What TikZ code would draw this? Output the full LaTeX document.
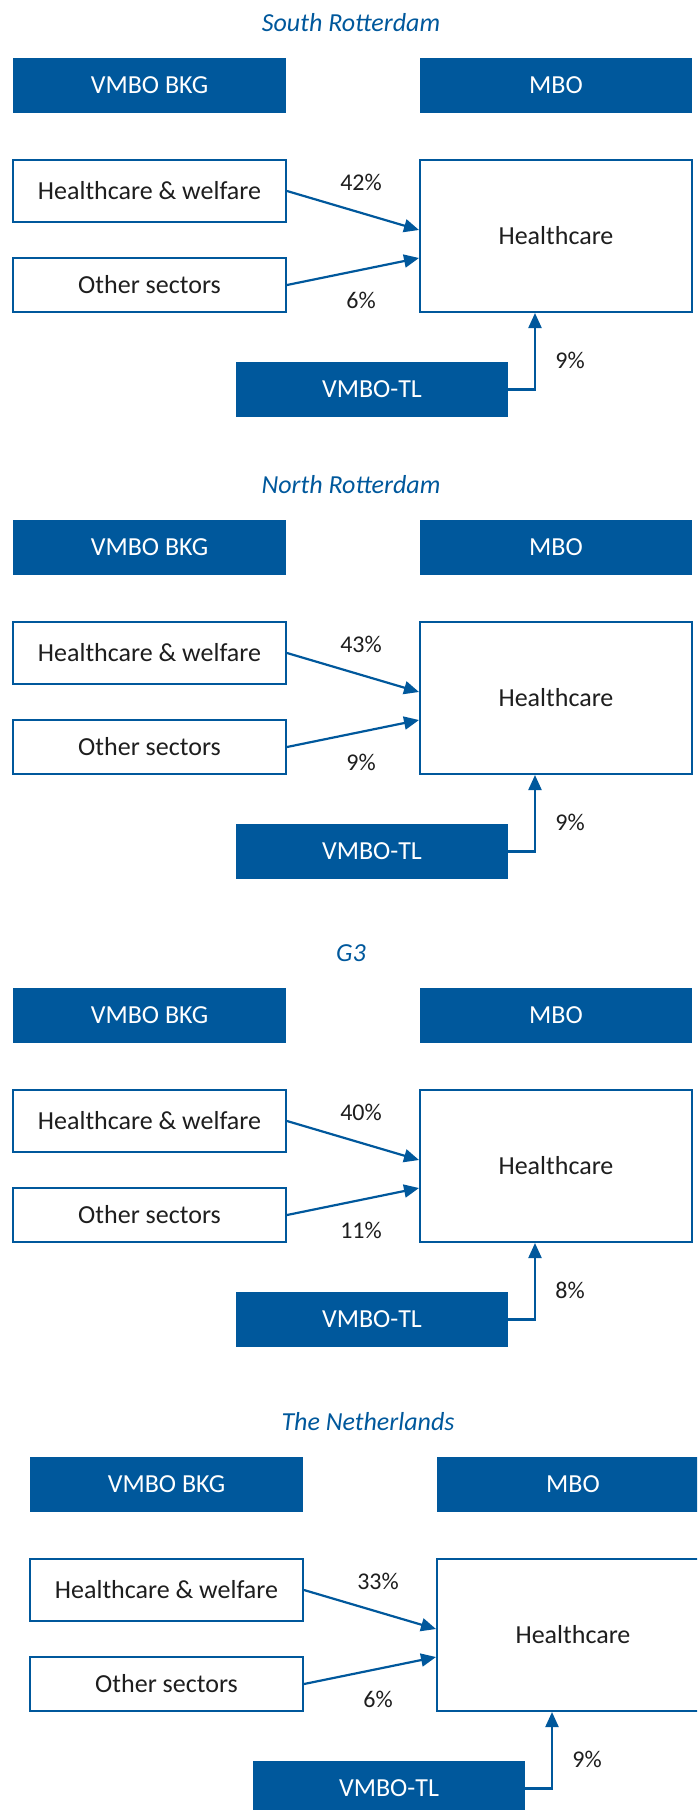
\documentclass[tikz,border=0pt]{standalone}
\usepackage{fontspec}
\setmainfont{Carlito}
\usetikzlibrary{arrows.meta,calc}
\definecolor{navy}{HTML}{00589C}
\definecolor{ink}{HTML}{1E1E1E}

\tikzset{
  solidbox/.style={rectangle, fill=navy, text=white, inner sep=0pt,
    font=\fontsize{26}{30}\selectfont},
  framebox/.style={rectangle, draw=navy, line width=2pt, fill=white, text=ink,
    inner sep=0pt, font=\fontsize{26}{30}\selectfont},
  flow/.style={draw=navy, line width=2.2pt,
    -{Triangle[length=15pt,width=13pt]}},
  share/.style={text=ink, inner sep=0pt, font=\fontsize{24}{28}\selectfont},
  heading/.style={text=navy, inner sep=0pt, font=\fontsize{26}{30}\selectfont\itshape},
}

% One panel: #1,#2 offset, #3 name prefix, #4 heading,
% #5 share from healthcare & welfare, #6 from other sectors, #7 from VMBO-TL
\newcommand\flowpanel[7]{%
\begin{scope}[shift={(#1,#2)}]
  \node[heading] (#3title) at (351,23) {#4};
  \node[solidbox, minimum width=273pt, minimum height=55pt] (#3bkg) at (149.5,85.5) {VMBO BKG};
  \node[solidbox, minimum width=272pt, minimum height=55pt] (#3mbo) at (556,85.5) {MBO};
  \node[framebox, minimum width=273pt, minimum height=62pt] (#3hw) at (149.5,191) {Healthcare \& welfare};
  \node[framebox, minimum width=273pt, minimum height=54pt] (#3os) at (149.5,285) {Other sectors};
  \node[framebox, minimum width=272pt, minimum height=152pt] (#3hc) at (556,236) {Healthcare};
  \node[solidbox, minimum width=272pt, minimum height=55pt] (#3tl) at (372,389.5) {VMBO-TL};
  \draw[flow] (#3hw.east) -- ($(#3hc.west)+(0,-6)$);
  \draw[flow] (#3os.east) -- ($(#3hc.west)+(0,22)$);
  \draw[flow] (#3tl.east) -| ($(#3hc.south west)+(116,0)$);
  \node[share] (#3a) at (361,182) {#5};
  \node[share] (#3b) at (361,300) {#6};
  \node[share] (#3c) at (570,360) {#7};
\end{scope}}

\begin{document}
\begin{tikzpicture}[x=1pt,y=-1pt]
  \useasboundingbox (0,0) rectangle (697,1810);
  \clip (0,0) rectangle (697,1810);
  \flowpanel{0}{0}{s}{South Rotterdam}{42\%}{6\%}{9\%}
  \flowpanel{0}{462}{n}{North Rotterdam}{43\%}{9\%}{9\%}
  \flowpanel{0}{930}{g}{G3}{40\%}{11\%}{8\%}
  \flowpanel{17}{1399}{t}{The Netherlands}{33\%}{6\%}{9\%}
\end{tikzpicture}
\end{document}
